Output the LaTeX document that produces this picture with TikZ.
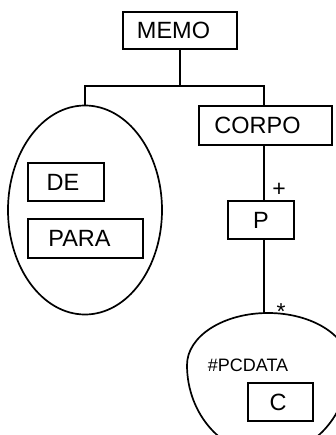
\documentclass[tikz,border=0pt]{standalone}
\usepackage{fontspec}
\setmainfont{Liberation Sans}
\usetikzlibrary{shapes.geometric}
\begin{document}
\begin{tikzpicture}[x=1pt,y=-1pt,
  box/.style={draw,line width=1.7pt,rectangle,inner sep=0pt,font=\fontsize{23.5}{27}\selectfont},
  oval/.style={draw,line width=1.7pt,ellipse,inner sep=0pt},
  wire/.style={line width=1.7pt},
  symb/.style={inner sep=0pt,font=\fontsize{23}{25}\selectfont}]
\useasboundingbox (0,0) rectangle (335,435);
\node[box,minimum width=114pt,minimum height=37pt] (memo) at (180,30.5) {\kern-13pt MEMO};
\node[box,minimum width=133pt,minimum height=39pt] (corpo) at (265.5,125.5) {\kern-16pt CORPO};
\node[box,minimum width=66pt,minimum height=38pt] (p) at (261,220) {P};
\node[oval,minimum width=154pt,minimum height=209pt] (grp) at (85,210) {};
\node[box,minimum width=76pt,minimum height=38pt] (de) at (66,182) {\kern-6pt DE};
\node[box,minimum width=115pt,minimum height=39pt] (para) at (85.5,238.5) {\kern-12pt PARA};
\draw[wire] (187,365) arc[start angle=180,end angle=360,x radius=81,y radius=52]
  arc[start angle=0,end angle=180,x radius=81,y radius=90];
\coordinate (pctop) at (264,313);
\node[inner sep=0pt,font=\fontsize{18}{21}\selectfont] (pcdata) at (248,365) {\#PCDATA};
\node[box,minimum width=65pt,minimum height=38pt] (c) at (280.5,402) {\kern-5pt C};
\coordinate (j) at (180,86);
\coordinate (cx) at (264,0);
\draw[wire] (memo.south) -- (j) -| (grp.north);
\draw[wire] (j) -| (corpo.north -| cx);
\draw[wire] (corpo.south -| cx) -- (p.north -| cx);
\draw[wire] (p.south -| cx) -- (pctop);
\node[symb] (plus) at (279,190) {+};
\node[symb] (star) at (281,312) {*};
\end{tikzpicture}
\end{document}
